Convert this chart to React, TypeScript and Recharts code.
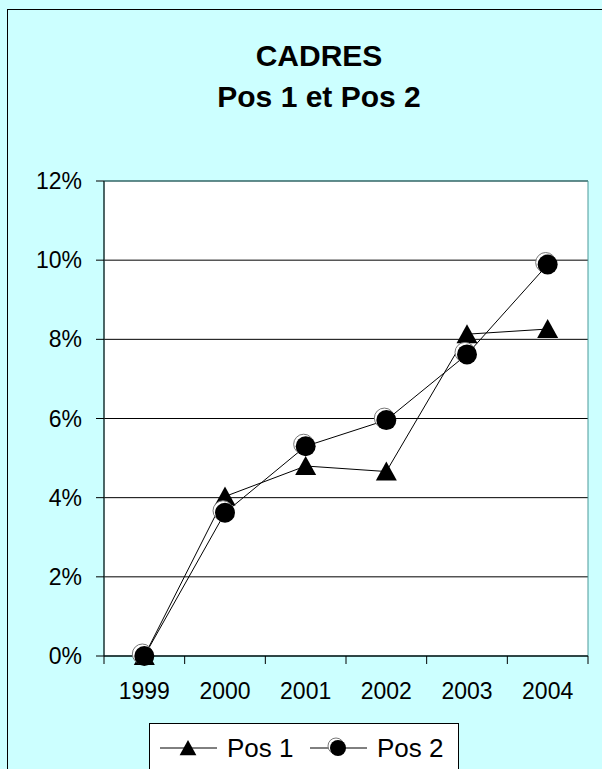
import { LineChart, Line, XAxis, YAxis, CartesianGrid, ReferenceArea, Legend } from "recharts"

const years = ["1999", "2000", "2001", "2002", "2003", "2004"]
const pos1 = [0, 0.0403, 0.048, 0.0466, 0.0813, 0.0826]
const pos2 = [0, 0.0362, 0.053, 0.0596, 0.0762, 0.0989]
const yTicks = [0, 0.02, 0.04, 0.06, 0.08, 0.1, 0.12]
const seriesNames = { pos1: "Pos 1", pos2: "Pos 2" }

const data = years.map((year, i) => ({ x: i + 0.5, year, pos1: pos1[i], pos2: pos2[i] }))
// ticks on category boundaries (integers) and labels at the centers (halves)
const xTicks = years.flatMap((_, i) => [i, i + 0.5]).concat(years.length)

const FONT = '"Liberation Sans", Arial, sans-serif'
const BG = "#CCFFFF"

function Triangle({ cx, cy, s = 1 }: { cx: number; cy: number; s?: number }) {
  return (
    <path
      d={`M${cx},${cy - 10 * s} L${cx + 10.5 * s},${cy + 9 * s} L${cx - 10.5 * s},${cy + 9 * s} Z`}
      fill="#000"
    />
  )
}

function Ball({ cx, cy, r = 10 }: { cx: number; cy: number; r?: number }) {
  return (
    <g>
      <circle cx={cx - 2} cy={cy - 2} r={r} fill="#fff" stroke="#777" strokeWidth={1} />
      <circle cx={cx} cy={cy} r={r} fill="#000" />
    </g>
  )
}

function XTick(props: any) {
  const { x, y, payload } = props
  const v = payload.value
  if (Number.isInteger(v)) {
    return <line x1={x} x2={x} y1={y - 43} y2={y - 35} stroke="#000" />
  }
  return (
    <text x={x} y={y} textAnchor="middle" fontSize={23} fill="#000" fontFamily={FONT}>
      {years[Math.floor(v)]}
    </text>
  )
}

function LegendBox(props: any) {
  const payload = props.payload || []
  return (
    <svg width={310} height={60} style={{ display: "block" }}>
      <rect x={0.5} y={0.5} width={309} height={80} fill="#fff" stroke="#000" />
      {payload.map((entry: any, i: number) => {
        const x0 = 11 + i * 150
        return (
          <g key={entry.dataKey}>
            <line x1={x0} x2={x0 + 57} y1={25} y2={25} stroke="#000" />
            {entry.dataKey === "pos1" ? (
              <Triangle cx={x0 + 28} cy={25} s={0.8} />
            ) : (
              <Ball cx={x0 + 28} cy={25} r={8} />
            )}
            <text x={x0 + 67} y={34} fontSize={26} fill="#000" fontFamily={FONT}>
              {entry.value}
            </text>
          </g>
        )
      })}
    </svg>
  )
}

export default function App() {
  return (
    <div
      style={{
        position: "absolute",
        left: 0,
        top: 0,
        width: 602,
        height: 769,
        overflow: "hidden",
        background: BG,
        fontFamily: FONT,
      }}
    >
      <div
        style={{
          position: "absolute",
          left: 7,
          top: 9,
          width: 700,
          height: 900,
          borderLeft: "1px solid #000",
          borderTop: "1px solid #000",
        }}
      />
      <div
        style={{
          position: "absolute",
          left: 0,
          top: 35,
          width: 638,
          textAlign: "center",
          fontWeight: "bold",
          fontSize: 30,
          lineHeight: "41px",
          color: "#000",
        }}
      >
        <div>CADRES</div>
        <div>Pos 1 et Pos 2</div>
      </div>
      <div style={{ position: "absolute", left: 0, top: 0 }}>
        <LineChart width={602} height={769} data={data} margin={{ top: 181, right: 14, left: 44, bottom: 53 }}>
          <CartesianGrid vertical={false} stroke="#000" fill="#fff" />
          <ReferenceArea y1={0} y2={0.12} fill="none" stroke="#4d9999" ifOverflow="visible" />
          <XAxis
            dataKey="x"
            type="number"
            domain={[0, years.length]}
            ticks={xTicks}
            interval={0}
            tickLine={false}
            tickSize={8}
            tickMargin={35}
            height={60}
            axisLine={{ stroke: "#000" }}
            tick={<XTick />}
          />
          <YAxis
            domain={[0, 0.12]}
            ticks={yTicks}
            interval={0}
            width={60}
            tickSize={8}
            tickMargin={14}
            axisLine={{ stroke: "#000" }}
            tickLine={{ stroke: "#000" }}
            tick={{ fontSize: 23, fill: "#000", fontFamily: FONT }}
            tickFormatter={(v: number) => `${Math.round(v * 100)}%`}
          />
          <Legend
            verticalAlign="middle"
            layout="horizontal"
            align="center"
            wrapperStyle={{ position: "absolute", left: 149, top: 723, width: 310, height: 60 }}
            content={<LegendBox />}
          />
          <Line
            type="linear"
            dataKey="pos1"
            name={seriesNames.pos1}
            stroke="#000"
            strokeWidth={1}
            isAnimationActive={false}
            activeDot={false}
            dot={(p: any) => <Triangle key={`t${p.index}`} cx={p.cx} cy={p.cy} />}
          />
          <Line
            type="linear"
            dataKey="pos2"
            name={seriesNames.pos2}
            stroke="#000"
            strokeWidth={1}
            isAnimationActive={false}
            activeDot={false}
            dot={(p: any) => <Ball key={`b${p.index}`} cx={p.cx} cy={p.cy} />}
          />
        </LineChart>
      </div>
    </div>
  )
}
